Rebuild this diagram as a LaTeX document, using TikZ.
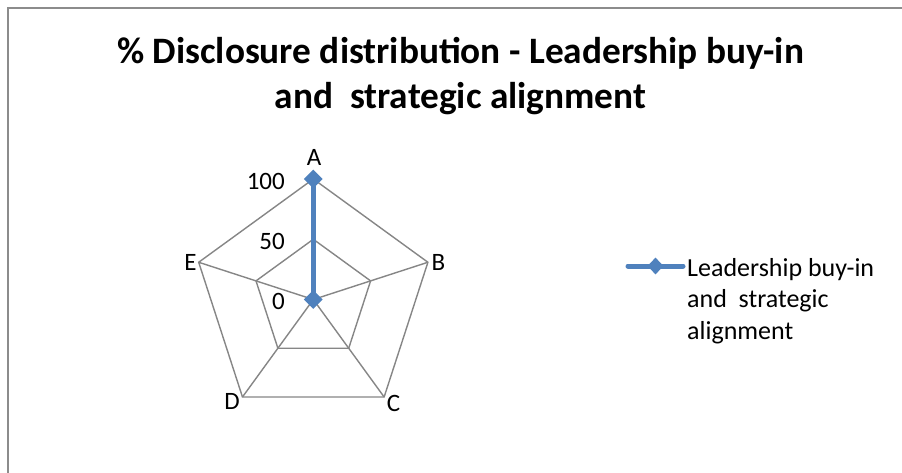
\documentclass[tikz,border=0pt]{standalone}
\usepackage{fontspec}
\setmainfont{Carlito}
\usetikzlibrary{calc,shapes.geometric}
\definecolor{gridgray}{HTML}{868686}
\definecolor{framegray}{HTML}{8C8C8C}
\definecolor{serblue}{HTML}{4F81BD}
\tikzset{
  titletext/.style={font=\fontsize{37.3}{45}\selectfont\bfseries, inner sep=0pt, anchor=base},
  axislabel/.style={font=\fontsize{25}{30}\selectfont, inner sep=0pt},
  ticklabel/.style={font=\fontsize{25}{30}\selectfont, inner sep=0pt, anchor=east},
  legendtext/.style={font=\fontsize{26}{31.5}\selectfont, inner sep=0pt, anchor=base west},
  gridline/.style={draw=gridgray, line width=1.4pt},
  serline/.style={draw=serblue, line width=5pt, line cap=round, line join=round},
  marker/.style={diamond, fill=serblue, inner sep=0pt, minimum width=19pt, minimum height=19pt},
  legmarker/.style={diamond, fill=serblue, inner sep=0pt, minimum width=16pt, minimum height=17pt},
}
\begin{document}
\begin{tikzpicture}[x=1pt,y=-1pt]
\useasboundingbox (0,0) rectangle (902,472);
\fill[white] (0,0) rectangle (902,472);
% chart frame (extends beyond picture right and bottom)
\draw[framegray, line width=1.8pt] (912,8) -- (8,8) -- (8,482);
% title
\node[titletext] (t1) at (460.5,63) {\% Disclosure distribution - Leadership buy-in};
\node[titletext] (t2) at (460.5,108) {and\ \ strategic alignment};
% radar geometry
\coordinate (O) at (313.3,299.5);
\coordinate (A1) at ($(O)+(-90:120.5)$);
\coordinate (B1) at ($(O)+(-18:120.5)$);
\coordinate (C1) at ($(O)+(54:120.5)$);
\coordinate (D1) at ($(O)+(126:120.5)$);
\coordinate (E1) at ($(O)+(198:120.5)$);
\coordinate (A2) at ($(O)+(-90:60.25)$);
\coordinate (B2) at ($(O)+(-18:60.25)$);
\coordinate (C2) at ($(O)+(54:60.25)$);
\coordinate (D2) at ($(O)+(126:60.25)$);
\coordinate (E2) at ($(O)+(198:60.25)$);
% grid
\draw[gridline, line join=miter] (A1) -- (B1) -- (C1) -- (D1) -- (E1) -- cycle;
\draw[gridline, line join=miter] (A2) -- (B2) -- (C2) -- (D2) -- (E2) -- cycle;
\draw[gridline] (O) -- (A1);
\draw[gridline] (O) -- (B1);
\draw[gridline] (O) -- (C1);
\draw[gridline] (O) -- (D1);
\draw[gridline] (O) -- (E1);
% category labels
\node[axislabel] (la) at (314,157) {A};
\node[axislabel] (lb) at (438.5,262) {B};
\node[axislabel] (lc) at (393.5,403.5) {C};
\node[axislabel] (ld) at (232,401) {D};
\node[axislabel] (le) at (190.5,262) {E};
% value labels
\node[ticklabel] (v100) at (285,181.5) {100};
\node[ticklabel] (v50) at (285,241.5) {50};
\node[ticklabel] (v0) at (285,301.5) {0};
% series
\draw[serline] (A1) -- (O);
\node[marker] (mO) at (O) {};
\node[marker] (mA) at (A1) {};
% legend
\coordinate (lg1) at (628,266);
\coordinate (lg2) at (683,266);
\draw[serline] (lg1) -- (lg2);
\node[legmarker] (lgm) at (655.5,266) {};
\node[legendtext] (leg1) at (687,276) {Leadership buy-in};
\node[legendtext] (leg2) at (687,307.5) {and\ \ strategic};
\node[legendtext] (leg3) at (687,339) {alignment};
\end{tikzpicture}
\end{document}
